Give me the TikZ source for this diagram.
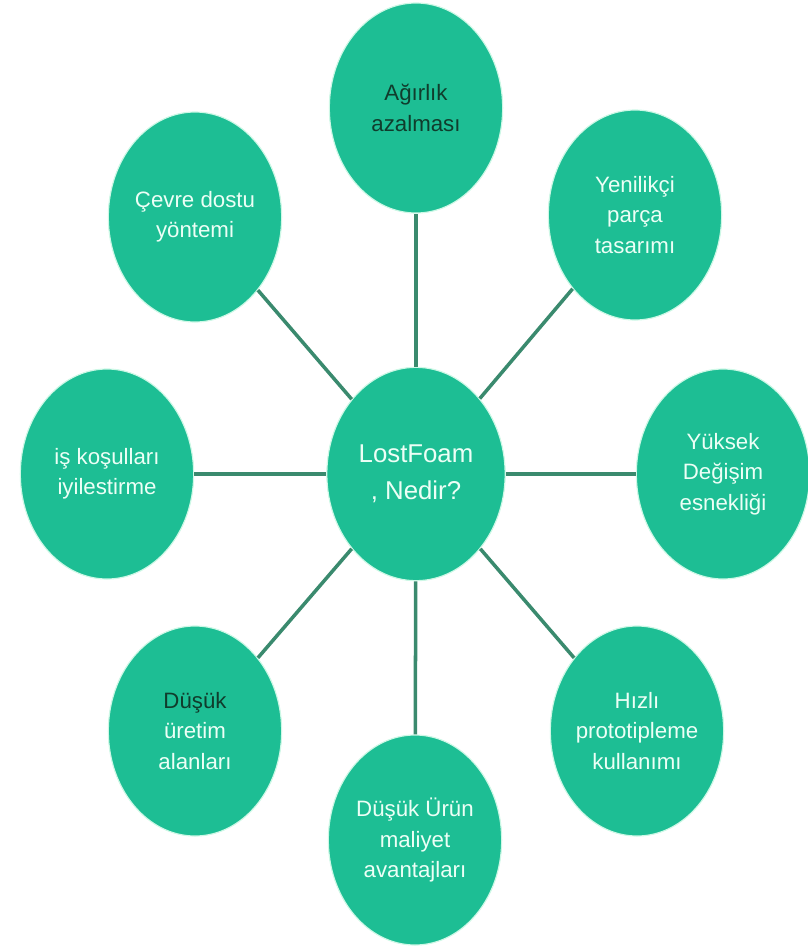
\documentclass[tikz,border=0pt]{standalone}
\usepackage{fontspec}
\setmainfont{Liberation Sans}
\usepackage{tikz}
\usetikzlibrary{shapes.geometric}

\definecolor{bubblefill}{RGB}{29,190,148}
\definecolor{bubbleedge}{RGB}{205,248,230}
\definecolor{spoke}{RGB}{58,138,110}
\definecolor{darktext}{RGB}{16,60,44}
\definecolor{lighttext}{RGB}{236,255,246}

\begin{document}
\begin{tikzpicture}[x=0.03cm, y=-0.03cm,
        bubble/.style={ellipse, fill=bubblefill, draw=bubbleedge, line width=1pt,
            minimum width=5.2cm, minimum height=6.3cm, inner sep=0pt,
            align=center, text=lighttext, font=\fontsize{19}{26}\selectfont},
        hub/.style={bubble, minimum width=5.35cm, minimum height=6.4cm,
            font=\fontsize{22}{32}\selectfont},
        spokeline/.style={draw=spoke, line width=3pt}]
        \useasboundingbox (0,0) rectangle (808,946);

        % Central node
        \node[hub] (lf) at (416,474) {LostFoam\\, Nedir?};

        % Surrounding nodes
        \node[bubble, text=darktext] (weight) at (416,108) {Ağırlık\\azalması};
        \node[bubble] (design) at (635,215) {Yenilikçi\\parça\\tasarımı};
        \node[bubble] (flex) at (723,474) {Yüksek\\Değişim\\esnekliği};
        \node[bubble] (proto) at (637,731) {Hızlı\\prototipleme\\kullanımı};
        \node[bubble] (cost) at (415,840) {Düşük Ürün\\maliyet\\avantajları};
        \node[bubble] (area) at (195,731) {\textcolor{darktext}{Düşük}\\üretim\\alanları};
        \node[bubble] (work) at (107,474) {iş koşulları\\iyilestirme};
        \node[bubble] (eco) at (195,217) {Çevre dostu\\yöntemi};

        % Spokes
        \draw[spokeline] (lf) -- (weight);
        \draw[spokeline] (lf) -- (design);
        \draw[spokeline] (lf) -- (flex);
        \draw[spokeline] (lf) -- (proto);
        \draw[spokeline] (lf) -- (cost);
        \draw[spokeline] (lf) -- (area);
        \draw[spokeline] (lf) -- (work);
        \draw[spokeline] (lf) -- (eco);
\end{tikzpicture}
\end{document}
